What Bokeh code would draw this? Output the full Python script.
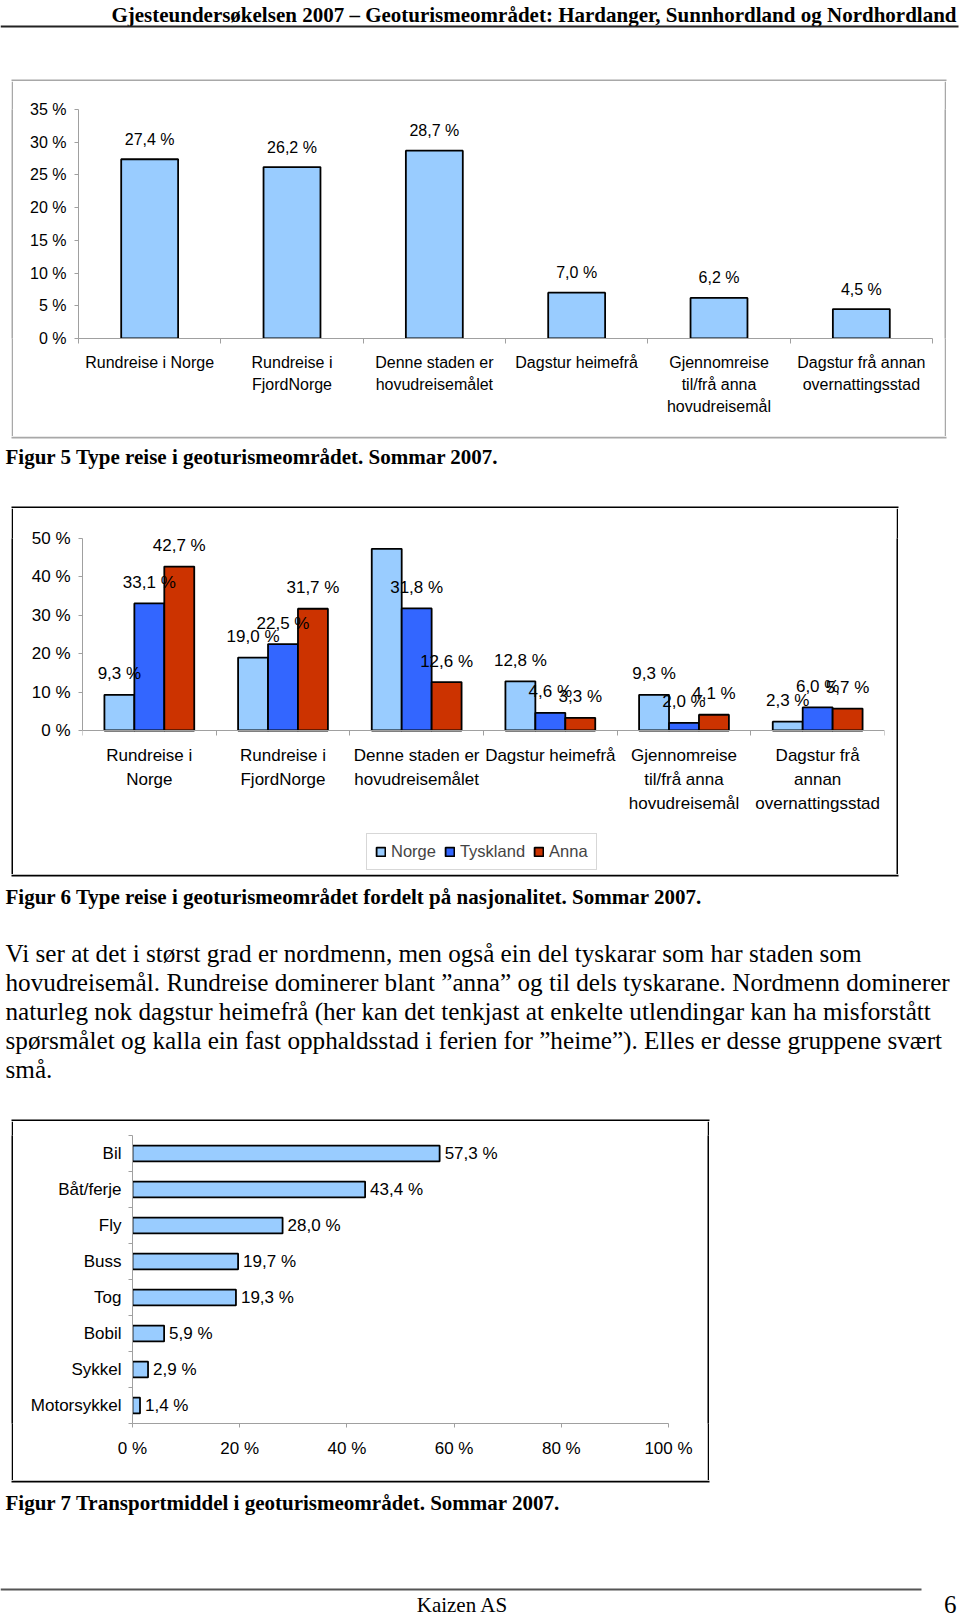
import numpy as np
from bokeh.plotting import figure
from bokeh.layouts import column, row
from bokeh.models import (Range1d, FixedTicker, PrintfTickFormatter, Spacer,
                          Legend, LegendItem, ColumnDataSource)
from bokeh.core.properties import value
from bokeh.embed import file_html
from bokeh.resources import INLINE

SANS = "Liberation Sans"
SERIF = "Liberation Serif"
AXC = "#a0a0a0"
BOX1 = "#a8a8a8"
BOX = "black"

# ---------------- data ----------------
header_text = "Gjesteundersøkelsen 2007 – Geoturismeområdet: Hardanger, Sunnhordland og Nordhordland"

fig5_categories = ["Rundreise i Norge", "Rundreise i\nFjordNorge", "Denne staden er\nhovudreisemålet",
                   "Dagstur heimefrå", "Gjennomreise\ntil/frå anna\nhovudreisemål",
                   "Dagstur frå annan\novernattingsstad"]
fig5_share = [27.4, 26.2, 28.7, 7.0, 6.2, 4.5]
fig5_yticks = [0, 5, 10, 15, 20, 25, 30, 35]
fig5_caption = "Figur 5 Type reise i geoturismeområdet. Sommar 2007."

fig6_categories = ["Rundreise i\nNorge", "Rundreise i\nFjordNorge", "Denne staden er\nhovudreisemålet",
                   "Dagstur heimefrå", "Gjennomreise\ntil/frå anna\nhovudreisemål",
                   "Dagstur frå\nannan\novernattingsstad"]
fig6_series = ["Norge", "Tyskland", "Anna"]
fig6_norge = [9.3, 19.0, 47.3, 12.8, 9.3, 2.3]
fig6_tyskland = [33.1, 22.5, 31.8, 4.6, 2.0, 6.0]
fig6_anna = [42.7, 31.7, 12.6, 3.3, 4.1, 5.7]
fig6_colors = ["#99CCFF", "#3366FF", "#CC3300"]
fig6_yticks = [0, 10, 20, 30, 40, 50]
fig6_caption = "Figur 6 Type reise i geoturismeområdet fordelt på nasjonalitet. Sommar 2007."

paragraph_lines = [
    "Vi ser at det i størst grad er nordmenn, men også ein del tyskarar som har staden som",
    "hovudreisemål. Rundreise dominerer blant \u201danna\u201d og til dels tyskarane. Nordmenn dominerer",
    "naturleg nok dagstur heimefrå (her kan det tenkjast at enkelte utlendingar kan ha misforstått",
    "spørsmålet og kalla ein fast opphaldsstad i ferien for \u201dheime\u201d). Elles er desse gruppene svært",
    "små.",
]

fig7_categories = ["Bil", "Båt/ferje", "Fly", "Buss", "Tog", "Bobil", "Sykkel", "Motorsykkel"]
fig7_share = [57.3, 43.4, 28.0, 19.7, 19.3, 5.9, 2.9, 1.4]
fig7_xticks = [0, 20, 40, 60, 80, 100]
fig7_caption = "Figur 7 Transportmiddel i geoturismeområdet. Sommar 2007."

footer_text = "Kaizen AS"
page_number = "6"


def pct(v):
    return f"{v:.1f}".replace(".", ",") + " %"


PAGE_W = 960
BOX_LEFT = 11


def bare_fig(w, h, **kw):
    p = figure(width=w, height=h, toolbar_location=None, output_backend="svg",
               x_axis_location=None, y_axis_location=None, title=None,
               min_border=0, min_border_left=0, min_border_right=0,
               min_border_top=0, min_border_bottom=0, **kw)
    p.outline_line_color = None
    p.grid.visible = False
    return p


def text_fig(top, bottom):
    return bare_fig(PAGE_W, bottom - top, x_range=Range1d(0, PAGE_W), y_range=Range1d(bottom, top))


def strip(w, h, color):
    p = bare_fig(w, h, x_range=Range1d(0, 1), y_range=Range1d(0, 1))
    p.background_fill_color = color
    p.border_fill_color = color
    return p


def boxed(p, color, lw=2):
    return row(Spacer(width=BOX_LEFT, height=p.height), strip(lw, p.height, color), p,
               strip(lw, p.height, color), spacing=0)


def hedge(tf, y, chart, color, lw=2):
    # horizontal edge of a chart box, drawn in the neighbouring text block
    tf.line(x=[BOX_LEFT, BOX_LEFT + chart.width + 2 * lw], y=[y, y], line_color=color, line_width=lw)


def serif_text(p, x, y, txt, size, bold=False, align="left"):
    p.text(x=[x], y=[y], text=[txt], text_font=value(SERIF), text_font_size=size,
           text_font_style="bold" if bold else "normal", text_align=align,
           text_baseline="alphabetic", text_color="black")


def style_axes(xa, ya, size):
    for a in (xa, ya):
        a.axis_line_color = AXC
        a.major_tick_line_color = AXC
        a.minor_tick_line_color = AXC
        a.major_label_text_font = SANS
        a.major_label_text_font_size = size
        a.major_label_text_color = "black"


# ---------------- figure 5 (inner page y 81..436, x 13..944) ----------------
x1 = list(range(len(fig5_categories)))
p1 = figure(width=931, height=355, x_range=Range1d(-0.5, len(x1) - 0.5), y_range=Range1d(0, max(fig5_yticks)),
            toolbar_location=None, output_backend="svg", title=None,
            min_border_left=65, min_border_right=12, min_border_top=28, min_border_bottom=98)
p1.outline_line_color = None
p1.grid.visible = False
s1 = ColumnDataSource(dict(x=x1, v=fig5_share, lab=[pct(v) for v in fig5_share]))
p1.vbar(x="x", top="v", width=0.4, source=s1, fill_color="#99CCFF", line_color="black", line_width=1.8)
p1.text(x="x", y="v", text="lab", source=s1, y_offset=-20, text_align="center", text_baseline="middle",
        text_font=value(SANS), text_font_size="16px", text_color="black")
xa, ya = p1.xaxis[0], p1.yaxis[0]
style_axes(xa, ya, "16px")
xa.ticker = FixedTicker(ticks=x1, minor_ticks=[i - 0.5 for i in range(len(x1) + 1)])
xa.major_label_overrides = {i: c for i, c in zip(x1, fig5_categories)}
xa.major_tick_line_color = None
xa.major_tick_out = 0
xa.major_tick_in = 0
xa.minor_tick_out = 5
xa.minor_tick_in = 0
xa.major_label_standoff = 10
xa.major_label_text_line_height = 1.31
ya.ticker = FixedTicker(ticks=fig5_yticks)
ya.formatter = PrintfTickFormatter(format="%d %%")
ya.major_tick_out = 4
ya.major_tick_in = 0
ya.minor_tick_line_color = None
ya.major_label_standoff = 8

# ---------------- figure 6 (inner page y 508..874, x 13..896) ----------------
H2_AXIS = 192      # pixel height of the 0..50 % span
H2_BELOW = 144     # pixels below the 0 % line inside the box
ymax2 = max(fig6_yticks)
x2 = np.arange(len(fig6_categories))
p2 = figure(width=883, height=366, x_range=Range1d(-0.5, len(x2) - 0.5),
            y_range=Range1d(-ymax2 * H2_BELOW / H2_AXIS, ymax2),
            toolbar_location=None, output_backend="svg", title=None,
            min_border_left=69, min_border_right=12, min_border_top=30, min_border_bottom=0)
p2.outline_line_color = None
p2.grid.visible = False
bw = 0.224
items = []
sources = []
for k, (name, vals, col) in enumerate(zip(fig6_series, [fig6_norge, fig6_tyskland, fig6_anna], fig6_colors)):
    xs = x2 + (k - 1) * bw
    src = ColumnDataSource(dict(x=xs, v=vals, lab=[pct(v) for v in vals]))
    sources.append(src)
    r = p2.vbar(x="x", top="v", width=bw, source=src, fill_color=col, line_color="black", line_width=1.8)
    items.append(LegendItem(label=name, renderers=[r]))
for src in sources:
    p2.text(x="x", y="v", text="lab", source=src, y_offset=-21, text_align="center", text_baseline="middle",
            text_font=value(SANS), text_font_size="17px", text_color="black")
xa, ya = p2.xaxis[0], p2.yaxis[0]
style_axes(xa, ya, "17px")
xa.fixed_location = 0
xl = [int(i) for i in x2]
xa.ticker = FixedTicker(ticks=xl, minor_ticks=[i - 0.5 for i in range(len(xl) + 1)])
xa.major_label_overrides = {i: c for i, c in zip(xl, fig6_categories)}
xa.major_tick_line_color = None
xa.major_tick_out = 0
xa.major_tick_in = 0
xa.minor_tick_out = 5
xa.minor_tick_in = 0
xa.major_label_standoff = 10
xa.major_label_text_line_height = 1.28
ya.bounds = (0, ymax2)
ya.ticker = FixedTicker(ticks=fig6_yticks)
ya.formatter = PrintfTickFormatter(format="%d %%")
ya.major_tick_out = 4
ya.major_tick_in = 0
ya.minor_tick_line_color = None
ya.major_label_standoff = 8
leg = Legend(items=items, orientation="horizontal", location=(284, 4),
             glyph_width=11, glyph_height=11, label_standoff=5, spacing=8, padding=8, margin=0,
             label_text_font=SANS, label_text_font_size="16.5px", label_height=17,
             border_line_color="#b0b0b0", border_line_width=1, background_fill_color="white",
             background_fill_alpha=1)
p2.add_layout(leg, "center")

# ---------------- figure 7 (inner page y 1121..1480, x 13..707) ----------------
y3 = list(range(len(fig7_categories)))
p3 = figure(width=694, height=359, x_range=Range1d(0, max(fig7_xticks)), y_range=Range1d(len(y3) - 0.5, -0.5),
            toolbar_location=None, output_backend="svg", title=None,
            min_border_left=119, min_border_right=39, min_border_top=14, min_border_bottom=57)
p3.outline_line_color = None
p3.grid.visible = False
s3 = ColumnDataSource(dict(y=y3, v=fig7_share, lab=[pct(v) for v in fig7_share]))
p3.hbar(y="y", right="v", left=0, height=0.44, source=s3, fill_color="#99CCFF", line_color="black",
        line_width=1.8)
p3.text(x="v", y="y", text="lab", source=s3, x_offset=5, text_align="left", text_baseline="middle",
        text_font=value(SANS), text_font_size="17px", text_color="black")
xa, ya = p3.xaxis[0], p3.yaxis[0]
style_axes(xa, ya, "17px")
xa.ticker = FixedTicker(ticks=fig7_xticks)
xa.formatter = PrintfTickFormatter(format="%d %%")
xa.major_tick_out = 4
xa.major_tick_in = 0
xa.minor_tick_line_color = None
xa.major_label_standoff = 11
ya.ticker = FixedTicker(ticks=y3, minor_ticks=[i - 0.5 for i in range(len(y3) + 1)])
ya.major_label_overrides = {i: c for i, c in zip(y3, fig7_categories)}
ya.major_tick_line_color = None
ya.major_tick_out = 0
ya.major_tick_in = 0
ya.minor_tick_out = 4
ya.minor_tick_in = 0
ya.major_label_standoff = 7

# ---------------- text blocks ----------------
ph = text_fig(0, 81)
serif_text(ph, 956, 14, header_text, "21px", bold=True, align="right")
ph.line(x=[0, 958], y=[26, 26], line_color="#222222", line_width=2)
hedge(ph, 80, p1, BOX1)

pc5 = text_fig(436, 508)
hedge(pc5, 437, p1, BOX1)
serif_text(pc5, 5, 456.5, fig5_caption, "21px", bold=True)
hedge(pc5, 507, p2, BOX)

pt = text_fig(874, 1121)
hedge(pt, 875, p2, BOX)
serif_text(pt, 5, 896.5, fig6_caption, "21px", bold=True)
for i, line in enumerate(paragraph_lines):
    serif_text(pt, 5, 953 + i * 28.9, line, "25.2px")
hedge(pt, 1120, p3, BOX)

pb = text_fig(1480, 1617)
hedge(pb, 1481, p3, BOX)
serif_text(pb, 5, 1502, fig7_caption, "21px", bold=True)
pb.line(x=[0, 921], y=[1589, 1589], line_color="#555555", line_width=2)
serif_text(pb, 462, 1604, footer_text, "21px", align="center")
serif_text(pb, 956, 1604, page_number, "25px", align="right")

layout = column(ph, boxed(p1, BOX1), pc5, boxed(p2, BOX), pt, boxed(p3, BOX), pb, spacing=0)
open("out.html", "w").write(file_html(layout, INLINE))
